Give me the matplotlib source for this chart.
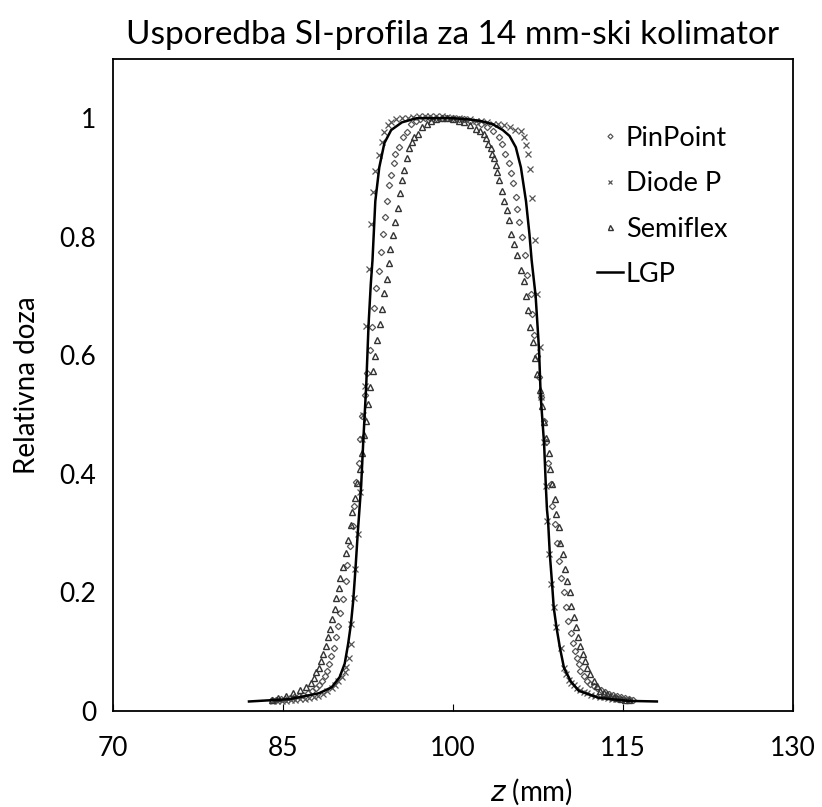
import matplotlib
matplotlib.use("Agg")
import matplotlib.pyplot as plt

plt.rcParams["font.family"] = ["Lato", "DejaVu Sans"]

# LGP (solid line)
lgp_z = [82.0, 85.6, 88.2, 89.3, 90.0, 90.45, 90.75, 91.0, 91.2, 91.4, 91.6, 91.75,
         91.9, 92.1, 92.35, 92.55, 92.75, 92.9, 93.15, 93.5, 93.95, 94.55, 95.5, 96.8,
         98.5, 100.0, 101.4, 102.5, 103.5, 104.4, 105.0, 105.55, 106.0, 106.45, 106.75,
         106.95, 107.3, 107.6, 107.75, 108.05, 108.2, 108.3, 108.4, 108.55, 108.75,
         108.9, 109.15, 109.45, 109.8, 110.4, 111.1, 112.9, 115.5, 118.0]
lgp_d = [0.016, 0.02, 0.03, 0.04, 0.057, 0.08, 0.113, 0.147, 0.186, 0.24, 0.30, 0.34,
         0.38, 0.46, 0.55, 0.65, 0.72, 0.76, 0.86, 0.917, 0.958, 0.98, 0.993, 1.0,
         1.0, 1.0, 0.998, 0.995, 0.99, 0.98, 0.97, 0.951, 0.917, 0.86, 0.805,
         0.76, 0.70, 0.61, 0.53, 0.45, 0.38, 0.34, 0.32, 0.265, 0.215,
         0.174, 0.14, 0.106, 0.073, 0.05, 0.034, 0.022, 0.017, 0.016]

# PinPoint (diamonds)
pin_z = [84.0, 84.4, 84.8, 85.2, 85.6, 86.0, 86.4, 86.8, 87.2, 87.6, 87.9, 88.2,
         88.45, 88.68, 88.88, 89.06, 89.27, 89.47, 89.71, 89.85, 90.0, 90.29, 90.53,
         90.64, 90.88, 91.17, 91.23, 91.47, 91.67, 91.84, 91.99, 92.26, 92.43, 92.64,
         92.84, 93.01, 93.23, 93.45, 93.67, 93.81, 94.04, 94.19, 94.4, 94.54, 94.77,
         94.92, 95.21, 95.57, 95.92, 96.3, 96.7, 97.1, 97.5, 98.0, 98.5, 99.0, 99.5,
         100.0, 100.5, 101.0, 101.5, 102.0, 102.5, 103.0, 103.5, 104.07, 104.36,
         104.6, 104.95, 105.1, 105.33, 105.54, 105.68, 105.83, 106.07, 106.36,
         106.56, 106.86, 107.0, 107.15, 107.44, 107.59, 107.74, 108.03, 108.18,
         108.41, 108.7, 108.76, 109.0, 109.2, 109.35, 109.58, 109.79, 109.99,
         110.16, 110.38, 110.58, 110.75, 110.96, 111.11, 111.26, 111.55, 111.84,
         112.1, 112.42, 112.75, 113.04, 113.4, 113.74, 114.1, 114.45, 114.8, 115.15,
         115.5, 115.86]
pin_d = [0.019, 0.019, 0.02, 0.021, 0.022, 0.023, 0.025, 0.027, 0.03, 0.034, 0.038,
         0.044, 0.05, 0.059, 0.068, 0.079, 0.093, 0.107, 0.125, 0.144, 0.166, 0.189,
         0.22, 0.246, 0.279, 0.3125, 0.346, 0.386, 0.418, 0.459, 0.497, 0.533, 0.57,
         0.609, 0.647, 0.68, 0.713, 0.742, 0.774, 0.805, 0.834, 0.861, 0.887, 0.904,
         0.925, 0.939, 0.951, 0.968, 0.977, 0.991, 0.995, 0.998, 1.0, 1.0, 1.001,
         1.0, 1.0, 1.0, 0.999, 0.998, 0.996, 0.993, 0.99, 0.985, 0.978, 0.969, 0.957,
         0.94, 0.925, 0.907, 0.89, 0.867, 0.847, 0.825, 0.8, 0.769, 0.736, 0.704,
         0.669, 0.635, 0.598, 0.563, 0.529, 0.49, 0.453, 0.418, 0.383, 0.346, 0.315,
         0.284, 0.253, 0.225, 0.2, 0.175, 0.152, 0.132, 0.115, 0.101, 0.09, 0.079,
         0.068, 0.059, 0.051, 0.046, 0.042, 0.038, 0.035, 0.032, 0.029, 0.027, 0.025,
         0.023, 0.022, 0.02, 0.019]

# Diode P (crosses)
dio_z = [84.1, 84.5, 84.9, 85.3, 85.7, 86.1, 86.5, 86.9, 87.3, 87.7, 88.1, 88.5,
         88.9, 89.3, 89.6, 89.9, 90.2, 90.45, 90.6, 90.8, 90.97, 91.03, 91.23, 91.4,
         91.6, 91.84, 91.96, 92.1, 92.26, 92.35, 92.57, 92.79, 92.93, 93.16, 93.45,
         93.7, 93.96, 94.25, 94.54, 94.98, 95.5, 96.0, 96.5, 97.0, 97.5, 98.0, 98.5,
         99.0, 99.5, 100.0, 100.5, 101.0, 101.5, 102.0, 102.5, 103.0, 103.5, 104.0,
         104.5, 105.0, 105.5, 106.0, 106.25, 106.45, 106.6, 106.8, 107.0, 107.24,
         107.44, 107.65, 107.74, 108.03, 108.18, 108.32, 108.47, 108.7, 108.91,
         109.14, 109.5, 109.79, 110.0, 110.23, 110.45, 110.67, 110.95, 111.26,
         111.55, 111.84, 112.2, 112.57, 112.95, 113.3, 113.65, 114.03, 114.4,
         114.77, 115.15, 115.5]
dio_d = [0.016, 0.016, 0.017, 0.017, 0.018, 0.019, 0.02, 0.021, 0.022, 0.024, 0.026,
         0.029, 0.033, 0.038, 0.044, 0.05, 0.058, 0.066, 0.075, 0.09, 0.113, 0.147,
         0.19, 0.24, 0.298, 0.369, 0.459, 0.5, 0.548, 0.65, 0.745, 0.821, 0.876,
         0.911, 0.938, 0.96, 0.977, 0.989, 0.994, 0.999, 1.0, 1.0, 1.002, 1.003,
         1.003, 1.004, 1.003, 1.003, 1.002, 1.001, 1.0, 0.999, 0.998, 0.996, 0.995,
         0.993, 0.991, 0.99, 0.988, 0.985, 0.98, 0.978, 0.968, 0.955, 0.94, 0.915,
         0.866, 0.794, 0.704, 0.614, 0.529, 0.453, 0.38, 0.321, 0.265, 0.214, 0.175,
         0.141, 0.107, 0.073, 0.062, 0.052, 0.048, 0.044, 0.039, 0.035, 0.032, 0.03,
         0.027, 0.025, 0.024, 0.023, 0.022, 0.021, 0.02, 0.02, 0.019, 0.019]

# Semiflex (triangles)
semi_z = [84.0, 84.6, 85.25, 85.85, 86.5, 87.0, 87.5, 87.71, 87.95, 88.18, 88.39,
          88.53, 88.77, 88.97, 89.12, 89.36, 89.56, 89.71, 89.94, 90.06, 90.29,
          90.53, 90.73, 90.97, 91.11, 91.32, 91.55, 91.76, 91.96, 92.15, 92.35,
          92.49, 92.7, 92.93, 93.14, 93.31, 93.58, 93.72, 93.89, 94.16, 94.33, 94.48,
          94.75, 94.92, 95.13, 95.34, 95.51, 95.71, 95.95, 96.15, 96.39, 96.59,
          96.88, 97.3, 97.7, 98.1, 98.5, 99.0, 99.5, 100.0, 100.5, 101.0, 101.5,
          102.0, 102.4, 102.75, 102.9, 103.13, 103.34, 103.48, 103.63, 103.78,
          103.92, 104.07, 104.31, 104.51, 104.8, 104.95, 105.1, 105.4, 105.68,
          106.04, 106.27, 106.48, 106.62, 106.8, 107.06, 107.24, 107.39, 107.65,
          107.82, 108.03, 108.24, 108.46, 108.61, 108.76, 109.0, 109.1, 109.35,
          109.43, 109.7, 109.87, 110.08, 110.29, 110.46, 110.67, 110.87, 111.04,
          111.26, 111.46, 111.63, 111.84, 112.13, 112.42, 112.72, 113.01, 113.3,
          113.57, 113.9, 114.18, 114.5, 114.8, 115.15, 115.5]
semi_d = [0.019, 0.022, 0.026, 0.03, 0.035, 0.041, 0.048, 0.056, 0.065, 0.073, 0.084,
          0.096, 0.11, 0.124, 0.138, 0.155, 0.172, 0.19, 0.208, 0.225, 0.243, 0.266,
          0.288, 0.314, 0.335, 0.36, 0.385, 0.408, 0.436, 0.465, 0.49, 0.518, 0.546,
          0.573, 0.598, 0.625, 0.652, 0.678, 0.705, 0.729, 0.755, 0.78, 0.803, 0.825,
          0.849, 0.873, 0.895, 0.913, 0.932, 0.949, 0.96, 0.968, 0.974, 0.985, 0.99,
          0.995, 0.998, 1.0, 1.0, 0.998, 0.996, 0.993, 0.988, 0.982, 0.978, 0.974,
          0.966, 0.957, 0.949, 0.94, 0.932, 0.921, 0.91, 0.895, 0.878, 0.861, 0.845,
          0.828, 0.805, 0.788, 0.769, 0.744, 0.725, 0.7, 0.676, 0.647, 0.622, 0.596,
          0.568, 0.541, 0.514, 0.487, 0.46, 0.436, 0.408, 0.383, 0.357, 0.332, 0.31,
          0.284, 0.265, 0.239, 0.22, 0.2, 0.177, 0.159, 0.141, 0.124, 0.11, 0.096,
          0.084, 0.073, 0.062, 0.051, 0.042, 0.034, 0.031, 0.028, 0.026, 0.024,
          0.022, 0.021, 0.019, 0.018]

fig = plt.figure(figsize=(8.22, 8.07), dpi=100)
ax = fig.add_axes([0.1375, 0.119, 0.827, 0.808])

ax.plot(pin_z, pin_d, linestyle="none", marker="D", markersize=3.2,
        markerfacecolor="none", markeredgecolor="#555555", markeredgewidth=0.9,
        label="PinPoint")
ax.plot(dio_z, dio_d, linestyle="none", marker="x", markersize=4.2,
        color="#555555", markeredgewidth=0.9, label="Diode P")
ax.plot(semi_z, semi_d, linestyle="none", marker="^", markersize=4.5,
        markerfacecolor="none", markeredgecolor="#333333", markeredgewidth=1.0,
        label="Semiflex")
ax.plot(lgp_z, lgp_d, color="black", linewidth=1.8, label="LGP")

ax.set_xlim(70, 130)
ax.set_ylim(0, 1.1)
ax.set_xticks([70, 85, 100, 115, 130])
ax.set_yticks([0, 0.2, 0.4, 0.6, 0.8, 1])
ax.set_yticklabels(["0", "0.2", "0.4", "0.6", "0.8", "1"])
ax.tick_params(axis="x", direction="in", length=5, labelsize=19, pad=18)
ax.tick_params(axis="y", length=0, labelsize=19, pad=12)

for sp in ax.spines.values():
    sp.set_linewidth(1.3)

ax.set_title("Usporedba SI-profila za 14 mm-ski kolimator", fontsize=24, pad=11)
ax.set_ylabel("Relativna doza", fontsize=20, labelpad=14)
ax.set_xlabel("$z$ (mm)", fontsize=20, labelpad=4)
ax.xaxis.set_label_coords(0.615, -0.1)

ax.legend(loc="upper left", bbox_to_anchor=(0.692, 0.918), frameon=False,
          borderpad=0, fontsize=19.5, labelspacing=0.75, handlelength=0.95,
          handletextpad=0.12, markerscale=0.8)

fig.savefig("out.png", dpi=100)
